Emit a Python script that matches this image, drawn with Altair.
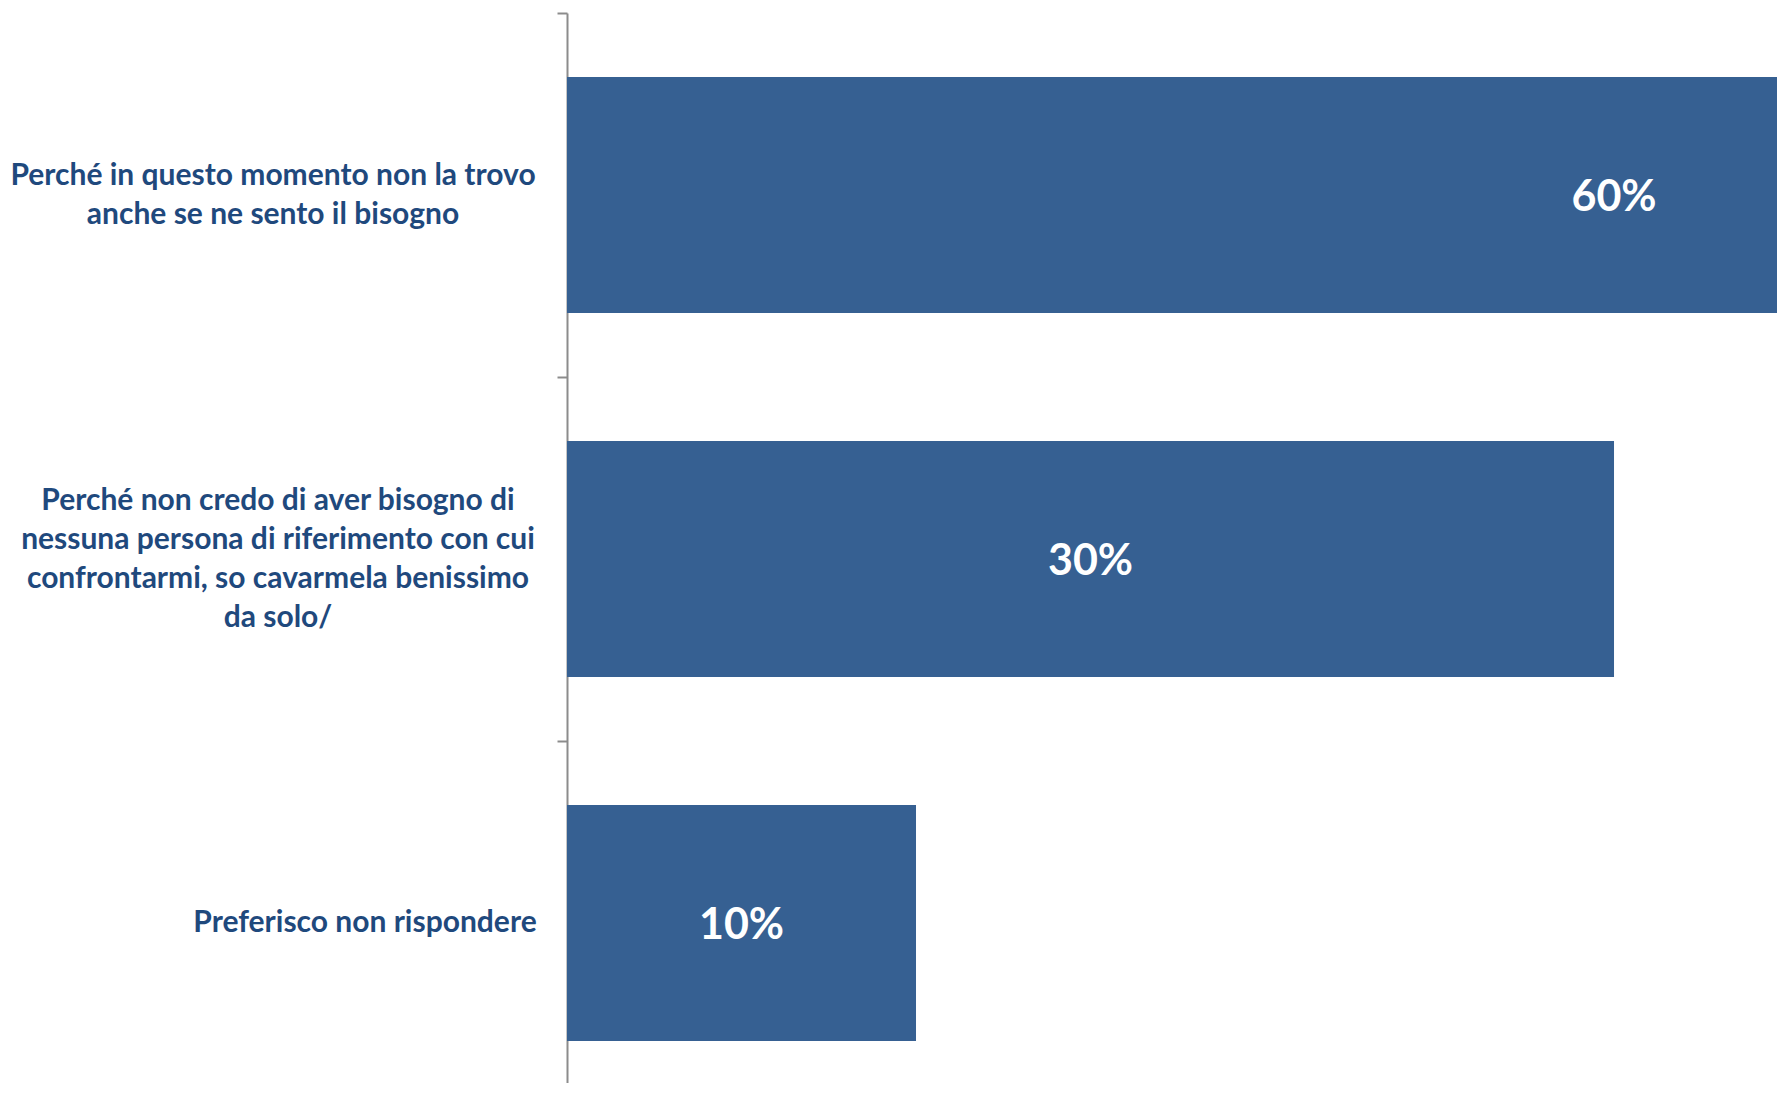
import altair as alt
import pandas as pd

categories = [
    "Perché in questo momento non la trovo\nanche se ne sento il bisogno",
    "Perché non credo di aver bisogno di\nnessuna persona di riferimento con cui\nconfrontarmi, so cavarmela benissimo\nda solo/",
    "Preferisco non rispondere",
]
values = [60, 30, 10]

df = pd.DataFrame({"category": categories, "value": values})

BAR = "#366092"
TXT = "#1F497D"
AXC = "#8C8C8C"
LH = 39

y_enc = alt.Y(
    "category:N",
    sort=None,
    scale=alt.Scale(range=[0, 1092], paddingInner=0, paddingOuter=0),
    axis=alt.Axis(
        labels=False, title=None, tickBand="extent", tickSize=10,
        domainColor=AXC, tickColor=AXC, domainWidth=2, tickWidth=2,
    ),
)
x_scale = alt.Scale(domain=[0, 34.67], nice=False)

base = alt.Chart(df)

bars = base.mark_bar(color=BAR, clip=True, height=alt.RelativeBandSize(band=0.648)).encode(
    x=alt.X("value:Q", scale=x_scale, axis=None),
    y=y_enc,
)

vals = base.transform_calculate(
    mid="datum.value / 2", label="format(datum.value, 'd') + '%'"
).mark_text(
    font="Lato", fontWeight="bold", fontSize=43, color="white",
    align="center", baseline="middle", clip=True, dy=3,
).encode(
    x=alt.X("mid:Q", scale=x_scale, axis=None),
    y=alt.Y("category:N", sort=None),
    text="label:N",
)

label_dx = [-294, -289, -202]
label_layers = []
for cat, dx in zip(categories, label_dx):
    n = cat.count("\n") + 1
    label_layers.append(
        base.transform_filter(alt.datum.category == cat).mark_text(
            font="Lato", fontWeight="bold", fontSize=30, color=TXT,
            align="center", baseline="middle", lineBreak="\n", lineHeight=LH,
            dx=dx, dy=-(n - 1) / 2 * LH,
        ).encode(
            x=alt.datum(0),
            y=alt.Y("category:N", sort=None),
            text="category:N",
        )
    )

chart = alt.layer(bars, vals, *label_layers).properties(
    width=1210,
    height=1070,
    autosize=alt.AutoSizeParams(type="none"),
    padding={"left": 559, "top": 5, "right": 0, "bottom": 0},
    background="white",
).configure_view(stroke=None)

chart.save("out.html", embed_options={"renderer": "svg", "actions": False})
